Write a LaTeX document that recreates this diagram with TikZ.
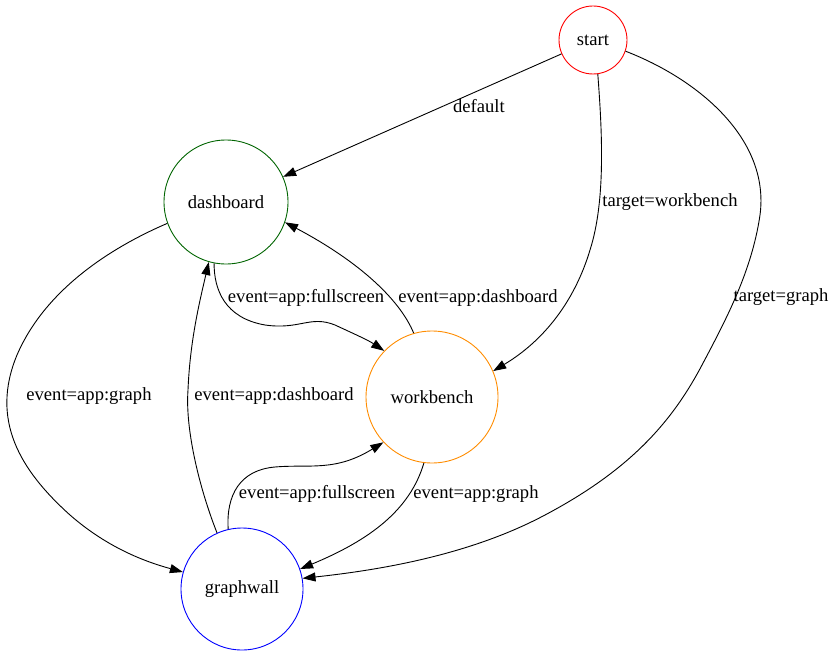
\documentclass[tikz,border=0pt]{standalone}
\usepackage{fontspec}
\setmainfont{Liberation Serif}
\usetikzlibrary{arrows.meta}
\begin{document}
\begin{tikzpicture}[x=1pt,y=-1pt,
  state/.style={circle,draw,line width=0.9pt,inner sep=0pt,font=\fontsize{18.6}{21}\selectfont},
  edge/.style={line width=0.9pt,-{Triangle[length=13pt,width=9pt]}},
  lbl/.style={inner sep=0pt,font=\fontsize{18.6}{21}\selectfont}]
\useasboundingbox (0,0) rectangle (834,655);
\node[state,draw=red,minimum size=68pt] (start) at (593,40) {start};
\node[state,draw={rgb,255:red,0;green,100;blue,0},minimum size=124pt] (dashboard) at (226,202) {dashboard};
\node[state,draw={rgb,255:red,255;green,140;blue,0},minimum size=132pt] (workbench) at (432,397) {workbench};
\node[state,draw=blue,minimum size=122pt] (graphwall) at (242,589) {graphwall};
% edges
\draw[edge] (start) -- (dashboard);
\draw[edge] (start.278) .. controls (602,130) and (606,200) .. (590,250) .. controls (575,300) and (545,340) .. (workbench.23);
\draw[edge] (start.341) .. controls (700,80) and (770,140) .. (760,215) .. controls (752,270) and (727,318) .. (702,365) .. controls (672,422) and (630,470) .. (545,515) .. controls (470,555) and (380,570) .. (graphwall.10);
\draw[edge] (dashboard.200) .. controls (110,248) and (45,290) .. (17,355) .. controls (-10,420) and (20,470) .. (70,515) .. controls (110,550) and (150,563) .. (graphwall.164);
\draw[edge] (dashboard.259) .. controls (214,290) and (225,318) .. (265,325) .. controls (300,330) and (310,315) .. (335,325) .. controls (350,332) and (368,340) .. (workbench.136);
\draw[edge] (workbench.106) .. controls (400,300) and (360,262) .. (dashboard.341);
\draw[edge] (graphwall.114) .. controls (200,490) and (185,430) .. (188,390) .. controls (190,340) and (200,300) .. (dashboard.254);
\draw[edge] (graphwall.103) .. controls (226,495) and (240,470) .. (275,467) .. controls (310,464) and (335,472) .. (workbench.223);
\draw[edge] (workbench.263) .. controls (410,510) and (370,540) .. (graphwall.19);
% labels
\node[lbl] (l1) at (479,106) {default};
\node[lbl] (l2) at (670,202) {target=workbench};
\node[lbl] (l3) at (781,297) {target=graph};
\node[lbl] (l4) at (89,396) {event=app:graph};
\node[lbl] (l5) at (306,298) {event=app:fullscreen};
\node[lbl] (l6) at (478,298) {event=app:dashboard};
\node[lbl] (l7) at (274,396) {event=app:dashboard};
\node[lbl] (l8) at (317,494) {event=app:fullscreen};
\node[lbl] (l9) at (476,494) {event=app:graph};
\end{tikzpicture}
\end{document}
